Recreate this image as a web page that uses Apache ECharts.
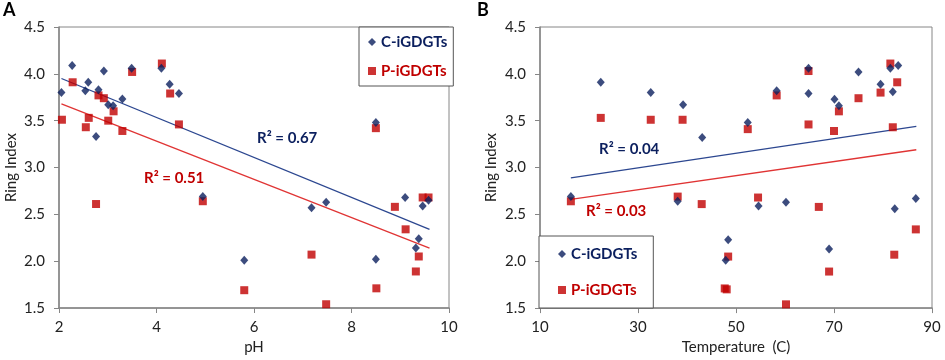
<!DOCTYPE html>
<html>
<head>
    <meta charset="utf-8">
    <title>Ring Index vs pH / Temperature</title>
    <style>
        html, body { margin: 0; padding: 0; background: #fff; }
    </style>
</head>
<body>
    <div id="main" style="width:945px;height:360px"></div>
    <script src="https://cdn.jsdelivr.net/npm/echarts@6/dist/echarts.min.js"></script>
    <script type="text/javascript">

        // panel A: ring index vs pH  [pH, RI]
        const PH_C = [
            [2.05, 3.80], [2.27, 4.09], [2.54, 3.82], [2.60, 3.91], [2.76, 3.33], [2.81, 3.83],
            [2.92, 4.03], [3.01, 3.67], [3.11, 3.66], [3.30, 3.73], [3.49, 4.06], [4.10, 4.06],
            [4.27, 3.89], [4.46, 3.79], [4.95, 2.69], [5.80, 2.01], [7.18, 2.57], [7.48, 2.63],
            [8.50, 3.48], [8.50, 2.02], [9.10, 2.68], [9.32, 2.14], [9.38, 2.24], [9.46, 2.59],
            [9.58, 2.65]
        ];
        const PH_P = [
            [2.06, 3.51], [2.28, 3.91], [2.55, 3.43], [2.61, 3.53], [2.76, 2.61], [2.81, 3.77],
            [2.92, 3.74], [3.01, 3.50], [3.12, 3.60], [3.30, 3.39], [3.50, 4.02], [4.11, 4.11],
            [4.28, 3.79], [4.46, 3.46], [4.95, 2.64], [5.80, 1.69], [7.18, 2.07], [7.48, 1.54],
            [8.50, 3.42], [8.51, 1.71], [8.89, 2.58], [9.11, 2.34], [9.32, 1.89], [9.38, 2.05],
            [9.46, 2.68], [9.58, 2.68]
        ];
        const PH_TREND_C = [[2.05, 3.95], [9.6, 2.34]];
        const PH_TREND_P = [[2.05, 3.68], [9.6, 2.14]];

        // panel B: ring index vs temperature  [T, RI]
        const T_C = [
            [16.3, 2.69], [22.4, 3.91], [32.6, 3.80], [38.1, 2.64], [39.2, 3.67], [43.1, 3.32],
            [47.9, 2.01], [48.4, 2.23], [52.4, 3.48], [54.6, 2.59], [58.3, 3.82], [60.2, 2.63],
            [64.8, 4.06], [64.8, 3.79], [69.0, 2.13], [70.1, 3.73], [71.0, 3.66], [75.0, 4.02],
            [79.5, 3.89], [81.5, 4.06], [82.0, 3.81], [82.4, 2.56], [83.1, 4.09], [86.7, 2.67]
        ];
        const T_P = [
            [16.3, 2.64], [22.4, 3.53], [32.6, 3.51], [38.1, 2.69], [39.1, 3.51], [43.0, 2.61],
            [47.7, 1.71], [48.1, 1.70], [48.4, 2.05], [52.4, 3.41], [54.5, 2.68], [58.3, 3.77],
            [60.2, 1.54], [64.8, 4.03], [64.8, 3.46], [66.9, 2.58], [69.0, 1.89], [70.0, 3.39],
            [71.0, 3.60], [75.0, 3.74], [79.5, 3.80], [81.5, 4.11], [82.0, 3.43], [82.3, 2.07],
            [82.9, 3.91], [86.7, 2.34]
        ];
        const T_TREND_C = [[16.3, 2.89], [86.8, 3.44]];
        const T_TREND_P = [[16.3, 2.66], [86.8, 3.19]];

        const SERIES_NAMES = ['C-iGDGTs', 'P-iGDGTs'];
        const R2_TEXT = ['R\u00b2 = 0.67', 'R\u00b2 = 0.51', 'R\u00b2 = 0.04', 'R\u00b2 = 0.03'];

        const NAVY = '#0b1f5e';
        const RED = '#c00000';
        const LINE_BLUE = '#2c4790';
        const LINE_RED = '#e03434';
        const GRAY = '#868686';
        const FONT = 'Lato, "Open Sans", sans-serif';

        function xAxis(idx, min, max, interval, name, nameGap) {
            return {
                type: 'value', gridIndex: idx, min: min, max: max, interval: interval,
                name: name, nameLocation: 'middle', nameGap: nameGap,
                nameTextStyle: { fontFamily: FONT, fontSize: 15, color: '#222' },
                axisLine: { show: true, lineStyle: { color: GRAY, width: 1.5 } },
                axisTick: { show: true, length: 5, lineStyle: { color: GRAY } },
                axisLabel: { fontFamily: FONT, fontSize: 15, color: '#222', margin: 12 },
                splitLine: { show: false }
            };
        }

        function yAxis(idx, nameGap) {
            return {
                type: 'value', gridIndex: idx, min: 1.5, max: 4.5, interval: 0.5,
                name: 'Ring Index', nameLocation: 'middle', nameGap: nameGap,
                nameTextStyle: { fontFamily: FONT, fontSize: 15, color: '#222' },
                axisLine: { show: true, lineStyle: { color: GRAY, width: 1.5 } },
                axisTick: { show: true, length: 5, lineStyle: { color: GRAY } },
                axisLabel: {
                    fontFamily: FONT, fontSize: 15, color: '#222', margin: 14,
                    formatter: function (v) { return v.toFixed(1); }
                },
                splitLine: { show: false }
            };
        }

        function scatter(name, idx, data, isC) {
            return {
                name: name, type: 'scatter', xAxisIndex: idx, yAxisIndex: idx,
                data: data,
                symbol: isC ? 'diamond' : 'rect',
                symbolSize: isC ? [8, 9] : 8,
                itemStyle: { color: isC ? NAVY : RED },
                z: isC ? 4 : 3
            };
        }

        function trend(idx, data, color) {
            return {
                type: 'line', xAxisIndex: idx, yAxisIndex: idx,
                data: data, showSymbol: false, symbol: 'none', silent: true,
                lineStyle: { color: color, width: 1.3 },
                z: 2
            };
        }

        function legend(left, top, gap, padding) {
            return {
                orient: 'vertical', left: left, top: top,
                itemWidth: 8, itemHeight: 8, itemGap: gap,
                padding: padding,
                borderColor: '#555', borderWidth: 1, backgroundColor: '#fff',
                data: [
                    { name: SERIES_NAMES[0], icon: 'diamond', textStyle: { color: NAVY } },
                    { name: SERIES_NAMES[1], icon: 'rect', textStyle: { color: RED } }
                ],
                textStyle: { fontFamily: FONT, fontSize: 15, fontWeight: 'bold', lineHeight: 16 }
            };
        }

        function label(text, x, y, color) {
            return {
                type: 'text', left: x, top: y,
                style: { text: text, fill: color, font: 'bold 15px ' + FONT }
            };
        }

        let myChart = echarts.init(document.getElementById('main'));

        let option = {
            animation: false,
            grid: [
                { left: 59, right: 496, top: 27, bottom: 49, show: true, borderColor: GRAY, borderWidth: 1 },
                { left: 540, right: 13, top: 27, bottom: 51, show: true, borderColor: GRAY, borderWidth: 1 }
            ],
            xAxis: [
                xAxis(0, 2, 10, 2, 'pH', 32),
                xAxis(1, 10, 90, 20, 'Temperature  (C)', 29)
            ],
            yAxis: [yAxis(0, 40), yAxis(1, 41)],
            legend: [
                legend(359, 27, 13, [7, 6, 7, 9]),
                legend(539, 236, 20, [10, 16, 10, 19])
            ],
            series: [
                trend(0, PH_TREND_C, LINE_BLUE),
                trend(0, PH_TREND_P, LINE_RED),
                scatter(SERIES_NAMES[0], 0, PH_C, true),
                scatter(SERIES_NAMES[1], 0, PH_P, false),
                trend(1, T_TREND_C, LINE_BLUE),
                trend(1, T_TREND_P, LINE_RED),
                scatter(SERIES_NAMES[0], 1, T_C, true),
                scatter(SERIES_NAMES[1], 1, T_P, false)
            ],
            graphic: [
                { type: 'text', left: 3, top: 1, style: { text: 'A', fill: '#000', font: 'bold 18px ' + FONT } },
                { type: 'text', left: 477, top: 1, style: { text: 'B', fill: '#000', font: 'bold 18px ' + FONT } },
                label(R2_TEXT[0], 257, 131, NAVY),
                label(R2_TEXT[1], 144, 171, RED),
                label(R2_TEXT[2], 599, 142, NAVY),
                label(R2_TEXT[3], 586, 204, RED)
            ]
        };

        myChart.setOption(option);

    </script>
</body>
</html>
